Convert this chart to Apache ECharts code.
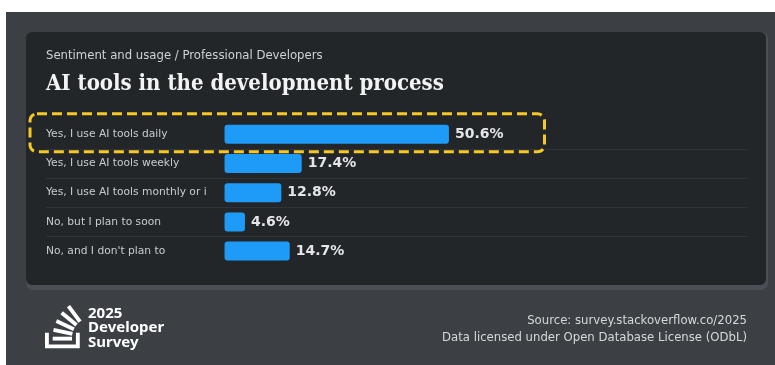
<!DOCTYPE html>
<html>
<head>
<meta charset="utf-8">
<script src="https://cdn.jsdelivr.net/npm/echarts@6/dist/echarts.min.js"></script>
<style>
html,body{margin:0;padding:0;background:#ffffff;}
#main{width:775px;height:365px;}
</style>
</head>
<body>
<div id="main"></div>
<script>
// ---- data ----
const categories = [
  "Yes, I use AI tools daily",
  "Yes, I use AI tools weekly",
  "Yes, I use AI tools monthly or infrequently",
  "No, but I plan to soon",
  "No, and I don't plan to"
];
const values = [50.6, 17.4, 12.8, 4.6, 14.7];
const subtitleText = "Sentiment and usage / Professional Developers";
const titleText = "AI tools in the development process";
const sourceLines = ["Source: survey.stackoverflow.co/2025", "Data licensed under Open Database License (ODbL)"];
const logoLines = ["2025", "Developer", "Survey"];
const highlightIndex = 0;

const chart = echarts.init(document.getElementById('main'), null, {renderer: 'canvas'});
const SANS = "DejaVu Sans";

// logo shapes (Stack Overflow mark, 120-unit design grid)
const logoShapes = [
  [[84.4,93.8],[84.4,70.6],[92.1,70.6],[92.1,101.5],[22.6,101.5],[22.6,70.6],[30.3,70.6],[30.3,93.8]],
  [[38.8,68.4],[76.6,76.3],[78.2,68.7],[40.4,60.8]],
  [[43.8,50.4],[78.8,66.7],[82,59.7],[47,43.3]],
  [[53.5,33.2],[83.2,57.9],[88.1,52],[58.4,27.3]],
  [[72.7,14.9],[66.5,19.5],[89.5,50.5],[95.7,45.9]],
  [[38,86],[76.6,86],[76.6,78.3],[38,78.3]]
];

const gridTop = 119.7, gridH = 146;
const option = {
  backgroundColor: 'transparent',
  animation: false,
  grid: [
    {left: 221, top: gridTop, width: 447, height: gridH},
    {left: 46, top: gridTop, width: 701, height: gridH}
  ],
  xAxis: [
    {gridIndex: 0, type: 'value', min: -0.8, max: 100, show: false},
    {gridIndex: 1, type: 'value', min: 0, max: 100, show: false}
  ],
  yAxis: [
    {gridIndex: 0, type: 'category', data: categories, inverse: true,
     axisLine: {show: false}, axisTick: {show: false}, splitLine: {show: false},
     axisLabel: {align: 'left', margin: 175, color: '#c9cccf', fontFamily: SANS, fontSize: 10.7,
                 width: 164, overflow: 'truncate', ellipsis: ''}},
    {gridIndex: 1, type: 'category', data: categories, inverse: true,
     axisLine: {show: false}, axisTick: {show: false}, axisLabel: {show: false},
     splitLine: {show: true, showMinLine: false, showMaxLine: false, lineStyle: {color: '#303438', width: 1}}}
  ],
  series: [{
    type: 'bar', xAxisIndex: 0, yAxisIndex: 0,
    data: values, barWidth: 19,
    itemStyle: {color: '#1d9bf7', borderRadius: 3},
    label: {show: true, position: 'right', distance: 6, formatter: p => p.value.toFixed(1) + '%',
            color: '#e4e6e8', fontFamily: SANS, fontWeight: 'bold', fontSize: 14}
  }]
};
chart.setOption(option);

const hy = chart.convertToPixel({yAxisIndex: 0}, categories[highlightIndex]);
chart.setOption({graphic: [
  {type: 'rect', z: -10, shape: {x: 6, y: 12, width: 769, height: 353}, style: {fill: '#3c4045'}, silent: true},
  {type: 'rect', z: -9, shape: {x: 26, y: 32, width: 742, height: 258, r: 7}, style: {fill: '#4a4f55'}, silent: true},
  {type: 'rect', z: -8, shape: {x: 26, y: 32, width: 740, height: 253, r: 6}, style: {fill: '#232629'}, silent: true},
  {type: 'text', x: 46, y: 50, style: {text: subtitleText, fill: '#cfd2d4', font: '11.7px "DejaVu Sans"'}},
  {type: 'text', x: 46, y: 73.5, style: {text: titleText, fill: '#f2f3f4', font: 'bold 22px "DejaVu Serif Condensed"'}},
  {type: 'rect', z: 10, shape: {x: 30, y: hy - 20.5, width: 514.5, height: 38, r: 7},
   style: {fill: 'none', stroke: '#f5c826', lineWidth: 3, lineDash: [10, 5]}},
  {type: 'group', x: 45 - 22.6 * 0.5, y: 305 - 14.9 * 0.5, scaleX: 0.5, scaleY: 0.5,
   children: logoShapes.map(pts => ({type: 'polygon', shape: {points: pts}, style: {fill: '#ffffff'}}))},
  {type: 'text', x: 88, y: 306, style: {text: logoLines.join('\n'), fill: '#ffffff', font: 'bold 15px "Noto Sans"', lineHeight: 14.5}},
  {type: 'text', x: 747, y: 312.5, style: {text: sourceLines.join('\n'), fill: '#d6d8da', font: '11.7px "DejaVu Sans"', lineHeight: 17, align: 'right'}}
]});
</script>
</body>
</html>
